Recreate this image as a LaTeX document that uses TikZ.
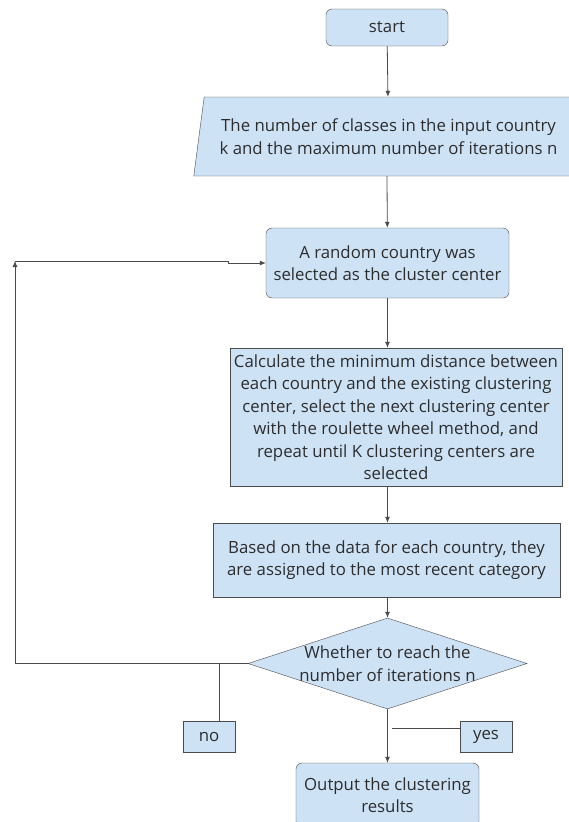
\documentclass[tikz,border=0pt]{standalone}
\usepackage{xcolor}
\usepackage{fontspec}
\setmainfont{Open Sans}
\usepackage{tikz}
\usetikzlibrary{shapes.geometric,arrows.meta}

\definecolor{boxblue}{RGB}{206,226,245}
\definecolor{edgegray}{RGB}{75,75,75}
\definecolor{textgray}{RGB}{45,45,45}

\begin{document}
\begin{tikzpicture}[
  x=1pt, y=-1pt,
  every node/.style={font=\fontsize{16.8}{22.5}\selectfont, text=textgray},
  term/.style={draw=edgegray, fill=boxblue, rounded corners=6pt, align=center, inner sep=1pt},
  proc/.style={draw=edgegray, fill=boxblue, align=center, inner sep=1pt},
  io/.style={draw=edgegray, fill=boxblue, trapezium, trapezium left angle=75, trapezium right angle=105, trapezium stretches=true, align=center, inner sep=0pt},
  decision/.style={draw=edgegray, fill=boxblue, diamond, inner sep=0pt},
  tag/.style={draw=edgegray, fill=boxblue, minimum width=52pt, minimum height=31pt, inner sep=0pt},
  arrow/.style={-{Latex[length=6pt,width=5pt]}, edgegray, line width=0.8pt},
  link/.style={edgegray, line width=0.8pt}
]
\clip (0,0) rectangle (569,822);
\fill[white] (0,0) rectangle (569,822);

\node[term, minimum width=122pt, minimum height=37pt] (start) at (387,27.5) {start};
\node[io, minimum width=391pt, minimum height=79pt] (input) at (388.5,136.5) {The number of classes in the input country\\k and the maximum number of iterations n};
\node[term, minimum width=243pt, minimum height=70pt] (rand) at (387.5,263) {A random country was\\selected as the cluster center};
\node[proc, minimum width=332pt, minimum height=138pt] (calc) at (396,417) {Calculate the minimum distance between\\each country and the existing clustering\\center, select the next clustering center\\with the roulette wheel method, and\\repeat until K clustering centers are\\selected};
\node[proc, minimum width=347pt, minimum height=74pt] (assign) at (386.5,560) {Based on the data for each country, they\\are assigned to the most recent category};
\node[decision, minimum width=279pt, minimum height=91pt,
  label={[align=center]center:Whether to reach the\\number of iterations n}] (dec) at (387.5,663.5) {};
\node[tag] (no) at (209,736.5) {no};
\node[tag] (yes) at (486,736.5) {yes};
\node[term, minimum width=183pt, minimum height=64pt] (out) at (387.5,795) {Output the clustering\\results};

% main flow
\draw[arrow] (start) -- (input);
\draw[arrow] (input.south -| start) -- (rand);
\draw[arrow] (rand) -- (rand |- calc.north);
\draw[arrow] (rand |- calc.south) -- (rand |- assign.north);
\draw[arrow] (rand |- assign.south) -- (dec);
\draw[arrow] (dec) -- (dec |- out.north);

% loop back
\coordinate (loop) at (15,261);
\coordinate (jog) at (228,261);
\draw[arrow] (dec.west) -| (loop);
\draw[arrow] (loop) -- (jog) |- (rand.west);

% branch labels
\coordinate (nojoin) at (219,663.5);
\coordinate (yesjoin) at (392,728);
\draw[link] (nojoin) -- (nojoin |- no.north);
\draw[link] (yesjoin) -- (yesjoin -| yes.west);
\end{tikzpicture}
\end{document}
